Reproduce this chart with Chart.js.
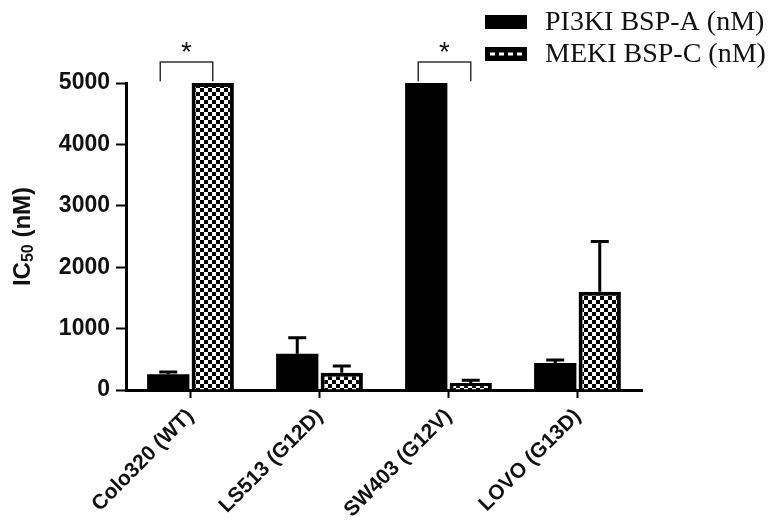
<!DOCTYPE html>
<html>
<head>
<meta charset="utf-8">
<script src="https://cdn.jsdelivr.net/npm/chart.js@4"></script>
<style>
  html, body { margin: 0; padding: 0; background: #fff; }
  #wrap { width: 774px; height: 521px; }
</style>
</head>
<body>
<div id="wrap"><canvas id="ic50Chart" width="774" height="521"></canvas></div>
<script>
// Cell lines and IC50 values (nM)
const cellLines = ["Colo320 (WT)", "LS513 (G12D)", "SW403 (G12V)", "LOVO (G13D)"];
const seriesLabels = ["PI3KI BSP-A (nM)", "MEKI BSP-C (nM)"];
const pi3kValues = [255, 590, 5000, 440];
const pi3kErrors = [40, 260, 0, 50];
const mekValues = [5000, 280, 115, 1600];
const mekErrors = [0, 110, 45, 820];
const yTicks = [0, 1000, 2000, 3000, 4000, 5000];

// significance brackets: category index, bracket top and leg bottom (data units)
const sigCategories = [0, 2];
const sigTop = 5340;
const sigLegBottom = 5030;

const textColor = "#111";

// Function to build the checkerboard fill
function makeChecker() {
    const c = document.createElement("canvas");
    c.width = 8;
    c.height = 8;
    const g = c.getContext("2d");
    g.fillStyle = "#fff";
    g.fillRect(0, 0, 8, 8);
    g.fillStyle = "#000";
    g.fillRect(0, 0, 4, 4);
    g.fillRect(4, 4, 4, 4);
    return g.createPattern(c, "repeat");
}

const checker = makeChecker();

// Error bars (upper whisker only)
const errorBarPlugin = {
    id: "errorBars",
    afterDatasetsDraw(chart) {
        const ctx = chart.ctx;
        const y = chart.scales.y;
        const errs = [pi3kErrors, mekErrors];
        chart.data.datasets.forEach((ds, i) => {
            const meta = chart.getDatasetMeta(i);
            meta.data.forEach((bar, j) => {
                const e = errs[i][j];
                if (!e) return;
                const top = y.getPixelForValue(ds.data[j] + e);
                ctx.save();
                ctx.strokeStyle = "#000";
                ctx.lineWidth = 3;
                ctx.beginPath();
                ctx.moveTo(bar.x, bar.y);
                ctx.lineTo(bar.x, top);
                ctx.moveTo(bar.x - 9, top);
                ctx.lineTo(bar.x + 9, top);
                ctx.stroke();
                ctx.restore();
            });
        });
    }
};

// Significance brackets, y axis title and legend
const extrasPlugin = {
    id: "extras",
    afterDraw(chart) {
        const ctx = chart.ctx;
        const y = chart.scales.y;
        const m0 = chart.getDatasetMeta(0);
        const m1 = chart.getDatasetMeta(1);

        ctx.save();
        ctx.strokeStyle = "#333";
        ctx.lineWidth = 1.5;
        sigCategories.forEach((c) => {
            const left = m0.data[c].x - 8;
            const right = m1.data[c].x;
            const yt = y.getPixelForValue(sigTop);
            const yb = y.getPixelForValue(sigLegBottom);
            ctx.beginPath();
            ctx.moveTo(left, yb);
            ctx.lineTo(left, yt);
            ctx.lineTo(right, yt);
            ctx.lineTo(right, yb);
            ctx.stroke();
            ctx.fillStyle = textColor;
            ctx.font = "28px 'Liberation Sans', Arial, sans-serif";
            ctx.textAlign = "center";
            ctx.textBaseline = "middle";
            ctx.fillText("*", (left + right) / 2, yt - 9);
        });
        ctx.restore();

        // y axis title with subscript
        ctx.save();
        ctx.translate(23, (chart.chartArea.top + chart.chartArea.bottom) / 2);
        ctx.rotate(-Math.PI / 2);
        ctx.fillStyle = textColor;
        ctx.textBaseline = "middle";
        const big = "bold 24px 'Liberation Sans', Arial, sans-serif";
        const small = "bold 16px 'Liberation Sans', Arial, sans-serif";
        ctx.font = big;
        const w1 = ctx.measureText("IC").width;
        const w3 = ctx.measureText(" (nM)").width;
        ctx.font = small;
        const w2 = ctx.measureText("50").width;
        let x = -(w1 + w2 + w3) / 2;
        ctx.font = big;
        ctx.textAlign = "left";
        ctx.fillText("IC", x, 0);
        x += w1;
        ctx.font = small;
        ctx.fillText("50", x, 6);
        x += w2;
        ctx.font = big;
        ctx.fillText(" (nM)", x, 0);
        ctx.restore();

        // legend
        ctx.save();
        ctx.font = "28px 'Liberation Serif', 'Times New Roman', serif";
        ctx.textBaseline = "middle";
        ctx.textAlign = "left";
        chart.data.datasets.forEach((ds, i) => {
            const cy = 22 + i * 32;
            ctx.fillStyle = "#000";
            ctx.fillRect(485, cy - 7, 42, 14);
            if (i === 1) {
                ctx.strokeStyle = "#fff";
                ctx.lineWidth = 3;
                ctx.setLineDash([5, 4]);
                ctx.beginPath();
                ctx.moveTo(490, cy);
                ctx.lineTo(523, cy);
                ctx.stroke();
                ctx.setLineDash([]);
            }
            ctx.fillStyle = textColor;
            ctx.fillText(ds.label, 545, cy + 1);
        });
        ctx.restore();
    }
};

const yFont = { family: "'Liberation Sans', Arial, sans-serif", size: 23, weight: "bold" };
const xFont = { family: "'Liberation Sans', Arial, sans-serif", size: 21, weight: "bold" };

new Chart(document.getElementById("ic50Chart").getContext("2d"), {
    type: "bar",
    data: {
        labels: cellLines,
        datasets: [
            {
                label: seriesLabels[0],
                data: pi3kValues,
                backgroundColor: "#000",
                borderWidth: 0,
                categoryPercentage: 0.69,
                barPercentage: 0.95
            },
            {
                label: seriesLabels[1],
                data: mekValues,
                backgroundColor: checker,
                borderColor: "#000",
                borderWidth: 4,
                categoryPercentage: 0.69,
                barPercentage: 0.95
            }
        ]
    },
    options: {
        responsive: false,
        animation: false,
        devicePixelRatio: 1,
        layout: { padding: { top: 83, right: 132, left: 0, bottom: 0 } },
        plugins: {
            legend: { display: false },
            tooltip: { enabled: false }
        },
        scales: {
            x: {
                grid: {
                    offset: false,
                    drawOnChartArea: false,
                    drawTicks: true,
                    tickLength: 8,
                    tickWidth: 2,
                    tickColor: "#000"
                },
                border: { display: true, color: "#000", width: 3 },
                ticks: {
                    color: textColor,
                    font: xFont,
                    minRotation: 45,
                    maxRotation: 45,
                    padding: 6
                },
                afterFit: (s) => { s.height = 131; }
            },
            y: {
                min: 0,
                max: 5000,
                afterBuildTicks: (s) => { s.ticks = yTicks.map((v) => ({ value: v })); },
                grid: {
                    drawOnChartArea: false,
                    drawTicks: true,
                    tickLength: 10,
                    tickWidth: 2,
                    tickColor: "#000"
                },
                border: { display: true, color: "#000", width: 3 },
                ticks: {
                    color: textColor,
                    font: yFont,
                    padding: 6,
                    callback: (v) => String(v)
                },
                afterFit: (s) => { s.width = 126; }
            }
        }
    },
    plugins: [errorBarPlugin, extrasPlugin]
});
</script>
</body>
</html>
